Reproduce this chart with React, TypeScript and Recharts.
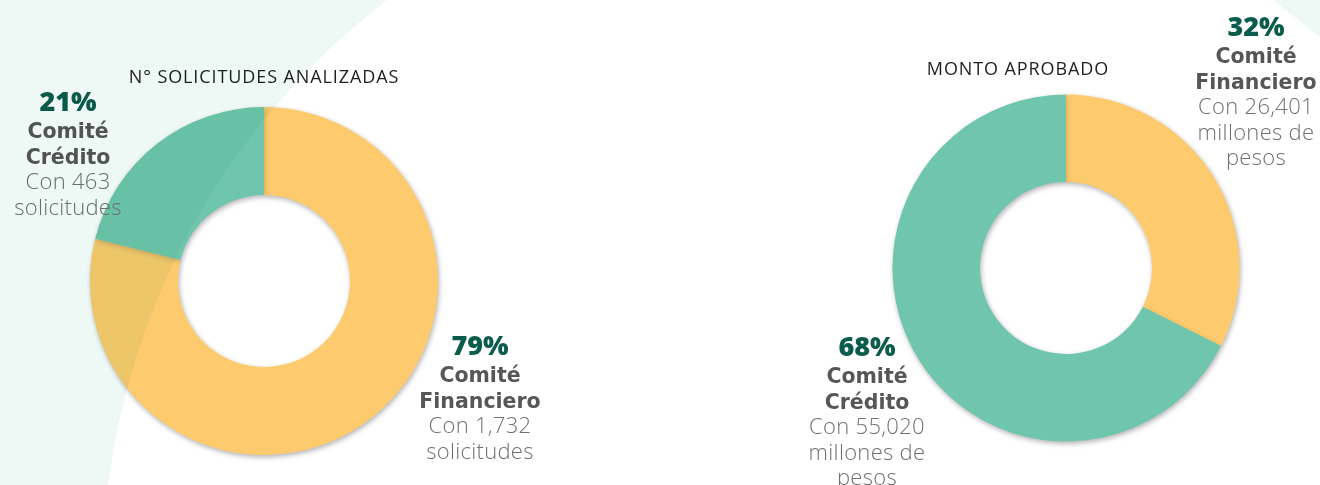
import React from 'react';
import { PieChart, Pie, Cell } from 'recharts';

// values
const committees = ['Comité Financiero', 'Comité Crédito'];
const committeeLines = [
  ['Comité', 'Financiero'],
  ['Comité', 'Crédito'],
];
const solicitudes = [1732, 463];
const montoMillones = [26401, 55020];
const chartTitles = ['N° SOLICITUDES ANALIZADAS', 'MONTO APROBADO'];
const unitLines = [['solicitudes'], ['millones de', 'pesos']];
const sliceColors = ['#fdcb6e', '#6fc6ad'];

const W = 1320;
const H = 485;

const solicitudesData = committees.map((name, i) => ({ name, value: solicitudes[i] }));
const montoData = committees.map((name, i) => ({ name, value: montoMillones[i] }));

const pct = (values: number[], i: number) => {
  const total = values.reduce((a, b) => a + b, 0);
  return Math.round((values[i] / total) * 100);
};

const fmt = (n: number) => n.toLocaleString('en-US');

// layout of the two donuts
const pies = [
  { cx: 264, cy: 281, outer: 174, inner: 86, titleX: 264, titleY: 83 },
  { cx: 1066, cy: 268, outer: 173.5, inner: 86, titleX: 1018, titleY: 75 },
];

// where each annotation block sits: [chart][slice] -> center x, baseline of the % line
const blockPos = [
  [{ x: 480, y: 355 }, { x: 68, y: 111 }],
  [{ x: 1256, y: 36 }, { x: 867, y: 356 }],
];

const PCT_COLOR = '#0b5c4c';
const BOLD_COLOR = '#565656';
const LIGHT_COLOR = '#707070';

const Block = ({ chart, idx }: { chart: number; idx: number }) => {
  const values = chart === 0 ? solicitudes : montoMillones;
  const p = blockPos[chart][idx];
  const light = [`Con ${fmt(values[idx])}`, ...unitLines[chart]];
  return (
    <g textAnchor="middle">
      <text x={p.x} y={p.y} fontFamily="'Open Sans'" fontWeight={800} fontSize={27} fill={PCT_COLOR}>
        {pct(values, idx)}%
      </text>
      {committeeLines[idx].map((t, k) => (
        <text
          key={t}
          x={p.x}
          y={p.y + 27 + k * 25.5}
          fontFamily="'DejaVu Sans'"
          fontWeight={700}
          fontSize={20.5}
          fill={BOLD_COLOR}
        >
          {t}
        </text>
      ))}
      {light.map((t, k) => (
        <text
          key={t}
          x={p.x}
          y={p.y + 78 + k * 25.5}
          fontFamily="'Open Sans'"
          fontWeight={300}
          fontSize={22}
          letterSpacing={0.3}
          fill={LIGHT_COLOR}
        >
          {t}
        </text>
      ))}
    </g>
  );
};

export default function App() {
  return (
    <div
      style={{
        position: 'fixed',
        left: 0,
        top: 0,
        width: W,
        height: H,
        background: '#ffffff',
        isolation: 'isolate',
        overflow: 'hidden',
      }}
    >
      <style>{`.donut-pie { filter: drop-shadow(1px 2px 2.5px rgba(0,0,0,0.16)); }`}</style>
      <PieChart width={W} height={H} margin={{ top: 0, right: 0, bottom: 0, left: 0 }}>
        <Pie
          className="donut-pie"
          data={solicitudesData}
          dataKey="value"
          nameKey="name"
          cx={pies[0].cx}
          cy={pies[0].cy}
          innerRadius={pies[0].inner}
          outerRadius={pies[0].outer}
          startAngle={90}
          endAngle={-270}
          stroke="none"
          isAnimationActive={false}
        >
          {solicitudesData.map((d, i) => (
            <Cell key={d.name} fill={sliceColors[i]} />
          ))}
        </Pie>
        <Pie
          className="donut-pie"
          data={montoData}
          dataKey="value"
          nameKey="name"
          cx={pies[1].cx}
          cy={pies[1].cy}
          innerRadius={pies[1].inner}
          outerRadius={pies[1].outer}
          startAngle={90}
          endAngle={-270}
          stroke="none"
          isAnimationActive={false}
        >
          {montoData.map((d, i) => (
            <Cell key={d.name} fill={sliceColors[i]} />
          ))}
        </Pie>
      </PieChart>

      <svg width={W} height={H} style={{ position: 'absolute', left: 0, top: 0, pointerEvents: 'none' }}>
        {chartTitles.map((t, i) => (
          <text
            key={t}
            x={pies[i].titleX}
            y={pies[i].titleY}
            textAnchor="middle"
            fontFamily="'Open Sans'"
            fontSize={18}
            letterSpacing={0.9}
            fill="#1f1f1f"
          >
            {t}
          </text>
        ))}
        {[0, 1].map((c) => [0, 1].map((i) => <Block key={`${c}-${i}`} chart={c} idx={i} />))}
      </svg>

      {/* light mint backdrop shapes, multiplied over the chart */}
      <svg
        width={W}
        height={H}
        style={{ position: 'absolute', left: 0, top: 0, pointerEvents: 'none', mixBlendMode: 'multiply' }}
      >
        <path d="M0,0 L387,0 A727,727 0 0 0 108,485 L0,485 Z" fill="#eef8f4" />
        <path d="M1273,0 L1320,0 L1320,37 Z" fill="#eef8f4" />
      </svg>
    </div>
  );
}
